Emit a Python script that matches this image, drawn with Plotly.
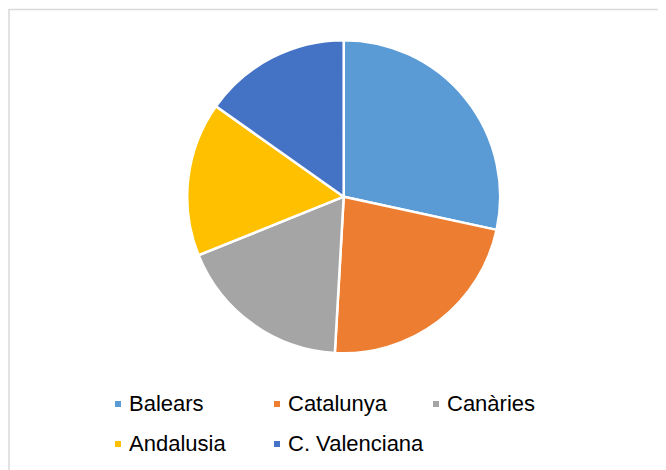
import plotly.graph_objects as go

# regions and their share
regions = ['Balears', 'Catalunya', 'Canàries', 'Andalusia', 'C. Valenciana']
shares = [28.4, 22.5, 18.0, 15.9, 15.2]
colors = ['#5B9BD5', '#ED7D31', '#A5A5A5', '#FFC000', '#4472C4']

OFF = 8  # page body margin, figure is drawn 8px in from the corner
W, H = 666 - OFF, 470 - OFF


def px_x(x):
    return (x - OFF) / W


def px_y(y):
    return 1 - (y - OFF) / H


fig = go.Figure()

cx0, cy0, r = 343.7, 196.7, 156.5
fig.add_trace(go.Pie(
    labels=regions,
    values=shares,
    sort=False,
    direction='clockwise',
    rotation=0,
    marker=dict(colors=colors, line=dict(color='white', width=2.5)),
    textinfo='none',
    hoverinfo='label+value',
    showlegend=False,
    domain=dict(x=[px_x(cx0 - r), px_x(cx0 + r)], y=[px_y(cy0 + r), px_y(cy0 - r)]),
))

# custom legend, Excel style (small squares, 3 per row)
col_x = [118, 277, 436]
row_y = [404, 444]
shapes = [dict(type='rect', xref='paper', yref='paper',
               x0=px_x(9), x1=1.05, y0=-0.05, y1=px_y(9.5),
               line=dict(color='#D9D9D9', width=1.5), fillcolor='rgba(0,0,0,0)')]
annotations = []
for i, (name, c) in enumerate(zip(regions, colors)):
    cx = col_x[i % 3]
    cy = row_y[i // 3]
    shapes.append(dict(type='rect', xref='paper', yref='paper',
                       x0=px_x(cx - 3), x1=px_x(cx + 3),
                       y0=px_y(cy + 3), y1=px_y(cy - 3),
                       line=dict(width=0), fillcolor=c))
    annotations.append(dict(text=name, xref='paper', yref='paper',
                            x=px_x(cx + 9), y=px_y(cy - 1),
                            xanchor='left', yanchor='middle', showarrow=False,
                            font=dict(size=22, color='#000000',
                                      family='Liberation Sans, Arial, sans-serif')))

fig.update_layout(
    width=W, height=H,
    margin=dict(l=0, r=0, t=0, b=0),
    paper_bgcolor='white',
    plot_bgcolor='white',
    shapes=shapes,
    annotations=annotations,
)

fig.write_html("out.html")
